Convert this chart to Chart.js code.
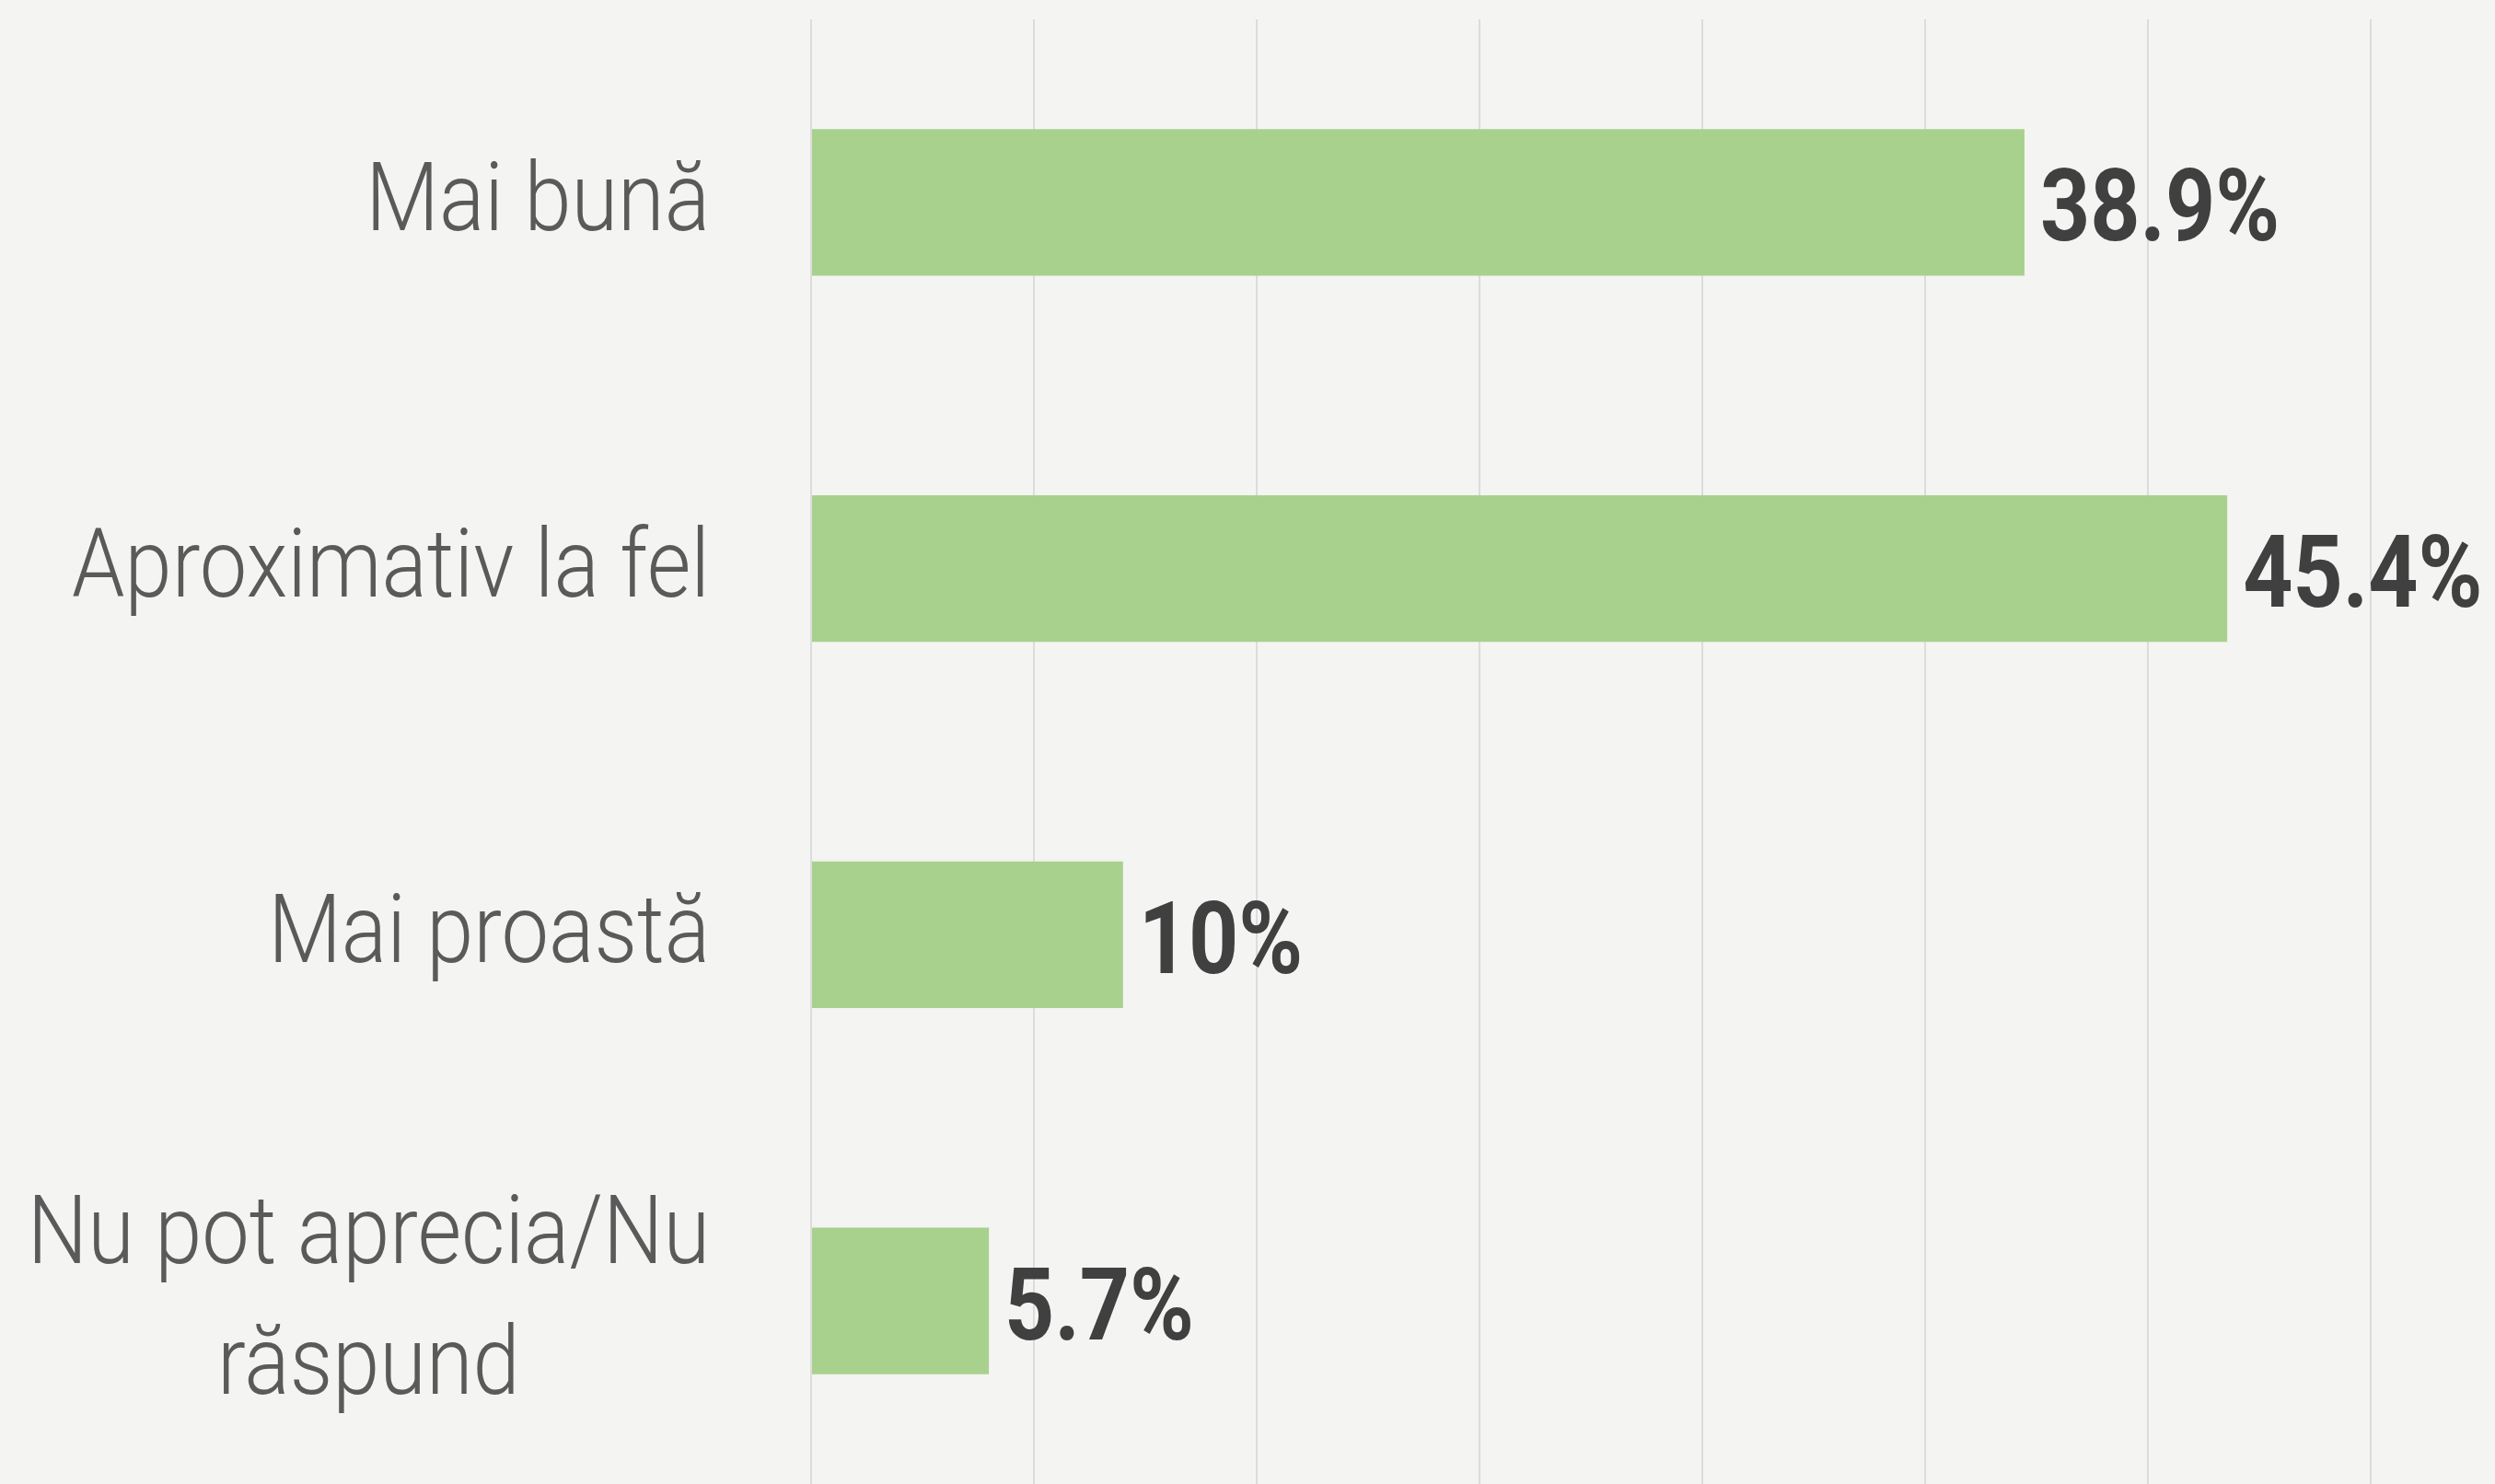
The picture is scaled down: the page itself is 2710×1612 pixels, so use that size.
<!DOCTYPE html>
<html lang="ro">
  <head>
    <meta charset="UTF-8" />
    <title>Chart</title>
    <style>
      html, body { margin: 0; padding: 0; background: #f4f4f2; }
      #wrap { width: 2710px; height: 1612px; }
    </style>
    <script src="https://cdn.jsdelivr.net/npm/chart.js"></script>
  </head>
  <body>
    <div id="wrap"><canvas id="myChart" width="2710" height="1612"></canvas></div>
    <script>
      // chart data
      const categories = [
        ["Mai bună"],
        ["Aproximativ la fel"],
        ["Mai proastă"],
        ["Nu pot aprecia/Nu", "răspund"]
      ];
      const values = [38.9, 45.4, 10, 5.7];
      const valueLabels = ["38.9%", "45.4%", "10%", "5.7%"];

      const FONT = 'Roboto, "Noto Sans", sans-serif';

      // draws text squeezed horizontally (the original face is a narrow one)
      function narrowText(ctx, text, x, y, sx) {
        ctx.save();
        ctx.translate(x, y);
        ctx.scale(sx, 1);
        ctx.fillText(text, 0, 0);
        ctx.restore();
      }

      // category labels: right-aligned block, lines centered inside it
      const categoryLabels = {
        id: 'categoryLabels',
        afterDraw(chart) {
          const ctx = chart.ctx;
          const yScale = chart.scales.y;
          const rightEdge = chart.chartArea.left - 110;
          const lineH = 142;
          const sx = 0.885;
          ctx.save();
          ctx.font = '300 104px ' + FONT;
          ctx.fillStyle = '#5a5a5a';
          ctx.textBaseline = 'middle';
          ctx.textAlign = 'center';
          categories.forEach((lines, i) => {
            const y = yScale.getPixelForTick(i);
            const widest = Math.max(...lines.map(l => ctx.measureText(l).width)) * sx;
            const cx = rightEdge - widest / 2;
            const top = y - (lines.length - 1) * lineH / 2;
            lines.forEach((l, j) => narrowText(ctx, l, cx, top + j * lineH + 4, sx));
          });
          ctx.restore();
        }
      };

      // value labels at the end of each bar
      const valueLabelPlugin = {
        id: 'valueLabels',
        afterDatasetsDraw(chart) {
          const ctx = chart.ctx;
          const meta = chart.getDatasetMeta(0);
          ctx.save();
          ctx.font = 'bold 110px ' + FONT;
          ctx.fillStyle = '#404040';
          ctx.textBaseline = 'middle';
          ctx.textAlign = 'left';
          meta.data.forEach((bar, i) => {
            narrowText(ctx, valueLabels[i], bar.x + 17, bar.y + 14, 0.86);
          });
          ctx.restore();
        }
      };

      const ctx = document.getElementById('myChart').getContext('2d');
      new Chart(ctx, {
        type: 'bar',
        data: {
          labels: categories,
          datasets: [{
            data: values,
            backgroundColor: '#a8d18d',
            borderWidth: 0,
            categoryPercentage: 1,
            barPercentage: 0.4
          }]
        },
        options: {
          indexAxis: 'y',
          responsive: false,
          animation: false,
          layout: { padding: { left: 881, right: 135, top: 21, bottom: 0 } },
          plugins: {
            legend: { display: false },
            tooltip: { enabled: false }
          },
          scales: {
            x: {
              min: 0,
              max: 50,
              ticks: { display: false, count: 8 },
              grid: { color: '#dcdcdc', lineWidth: 2, drawTicks: false },
              border: { display: false }
            },
            y: {
              ticks: { display: false },
              grid: { display: false, drawTicks: false },
              border: { display: false }
            }
          }
        },
        plugins: [categoryLabels, valueLabelPlugin]
      });
    </script>
  </body>
</html>
